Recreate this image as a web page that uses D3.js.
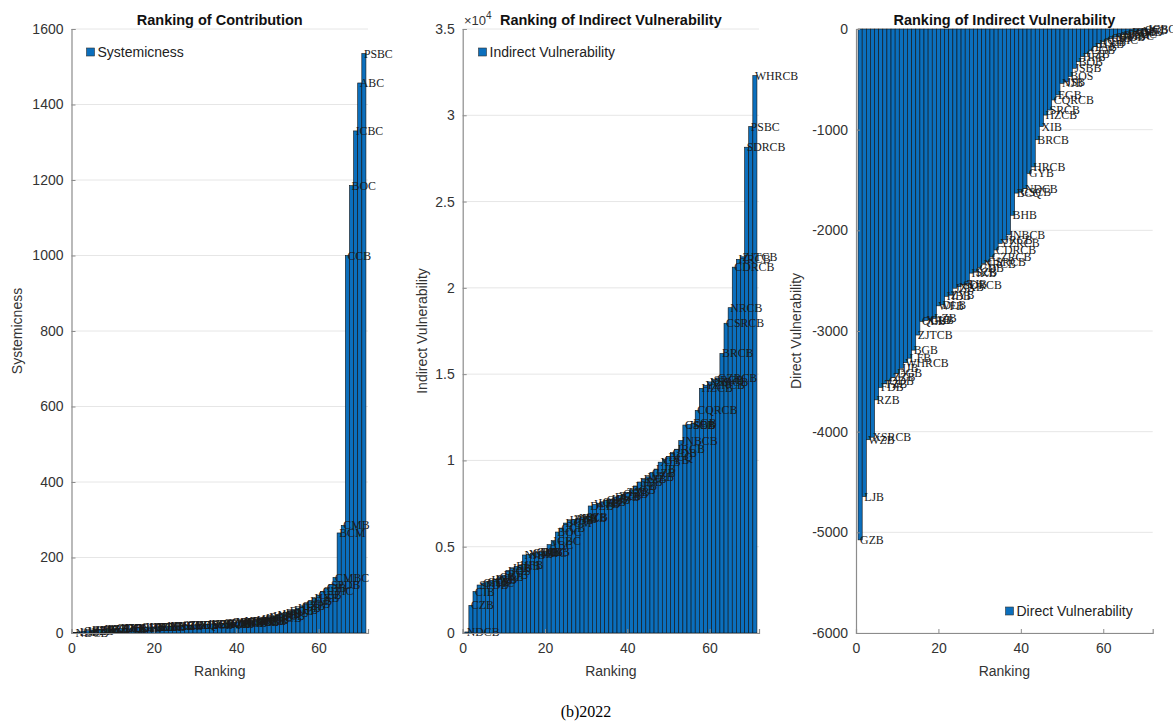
<!DOCTYPE html>
<html>
<head>
<meta charset="utf-8">
<script src="https://cdn.jsdelivr.net/npm/d3@7"></script>
<style>
  body { margin: 0; background: #fff; }
  svg text { font-family: "Liberation Sans", Arial, sans-serif; }
</style>
</head>
<body>
<div id="chart"></div>
<script>
// ranking data, sorted ascending in each panel (rank 1..71)
const systemicBanks = ["NDCB","LJB","GZB","WZB","RZB","FDB","LFB","BGB","TZB","ZJTCB","QDB","ZZB","DGB","JJB","QLB","XAB","GLB","LZB","WFB","DLB","HBB","ZYB","JZB","NXB","TJB","HKB","SZB","GYB","BCQ","CDB","XIB","CSCB","JSBB","YZRCB","XSRCB","SRCB","CQRCB","GZRCB","CDRCB","WHRCB","SDRCB","NRCB","CSRCB","BRCB","HRCB","JRCB","JNBCB","EGB","HZCB","NJB","JSB","BOS","BOB","BHB","HFB","CZB","CGB","PAB","HXB","CEB","CITIC","CIB","SPDB","CMBC","BCM","CMB","CCB","BOC","ICBC","ABC","PSBC"];
const systemicness = [1,3,5,6,8,9,9,10,11,11,12,12,13,13,14,14,15,15,16,16,17,17,18,18,19,19,20,20,21,21,22,22,23,24,24,25,26,27,28,29,30,31,32,33,35,37,39,42,45,48,51,54,58,62,66,72,78,85,92,100,110,118,128,147,265,285,1000,1185,1330,1457,1535];

const indirectBanks = ["NDCB","CZB","CIB","SPDB","CITIC","CEB","HXB","PAB","CGB","BOB","BOS","JSB","BHB","HFB","NJB","XAB","CMBC","CMB","TJB","HKB","ABC","ICBC","BOC","CCB","BCM","HBB","ZYB","JZB","NXB","SZB","DLB","WFB","LZB","GLB","QLB","JJB","DGB","ZZB","QDB","TZB","BGB","LFB","FDB","RZB","WZB","GZB","LJB","XIB","GYB","BCQ","CDB","JRCB","JNBCB","CSCB","JSBB","EGB","CQRCB","HZCB","YZRCB","XSRCB","SRCB","GZRCB","BRCB","CSRCB","NRCB","CDRCB","HRCB","ZJTCB","SDRCB","PSBC","WHRCB"];
const indirectVuln = [60,1600,2400,2780,2900,2970,3050,3120,3250,3350,3620,3750,3860,3920,4520,4560,4620,4680,4700,4720,5120,5350,5850,6080,6370,6520,6580,6640,6690,6740,7360,7450,7520,7600,7700,7760,7880,7960,8050,8150,8300,8520,8750,8920,9050,9300,9500,9900,10050,10220,10450,10650,11150,12050,12080,12150,12900,14180,14350,14550,14680,14780,16200,17950,18850,21200,21650,21800,28150,29350,32300];

const directBanks = ["GZB","LJB","WZB","XSRCB","RZB","FDB","TZB","QDB","ZZB","DGB","JJB","WHRCB","LFB","BGB","ZJTCB","QLB","XAB","GLB","LZB","WFB","DLB","HBB","ZYB","JZB","NXB","SDRCB","TJB","HKB","SZB","CDB","NRCB","CSRCB","GZRCB","CDRCB","YZRCB","JRCB","JNBCB","BHB","BCQ","CSCB","NDCB","GYB","HRCB","BRCB","XIB","HZCB","SRCB","CQRCB","EGB","NJB","JSB","BOS","JSBB","BOB","HFB","CZB","CGB","PAB","HXB","CEB","CITIC","CIB","SPDB","CMBC","BCM","PSBC","BOC","CMB","ABC","CCB","ICBC"];
const directVuln = [-5075,-4645,-4080,-4055,-3684,-3560,-3525,-3495,-3460,-3420,-3370,-3315,-3270,-3190,-3040,-2905,-2895,-2890,-2875,-2750,-2740,-2655,-2640,-2575,-2560,-2540,-2530,-2425,-2410,-2370,-2330,-2310,-2265,-2195,-2130,-2095,-2045,-1850,-1630,-1615,-1585,-1435,-1370,-1100,-970,-855,-805,-705,-655,-540,-525,-470,-390,-325,-275,-245,-210,-175,-145,-125,-105,-93,-80,-70,-55,-45,-33,-25,-18,-10,-4];

const xTicks = [0, 20, 40, 60];
const systemicTicks = [0, 200, 400, 600, 800, 1000, 1200, 1400, 1600];
const indirectTicks = [0, 5000, 10000, 15000, 20000, 25000, 30000, 35000];
const directTicks = [0, -1000, -2000, -3000, -4000, -5000, -6000];

const W = 1173, H = 727;
const plotTop = 29, plotBottom = 633;
const barColor = "#0b6fbd";

const svg = d3.select("#chart").append("svg")
  .attr("width", W)
  .attr("height", H);

function drawPanel(p) {
  const x = d3.scaleLinear().domain([0, 72]).range([p.left, p.right]);
  const y = d3.scaleLinear().domain(p.yDomain).range([plotBottom, plotTop]);
  const g = svg.append("g");

  // gridlines
  g.selectAll("line.grid").data(p.yTicks).enter().append("line")
    .attr("class", "grid")
    .attr("x1", p.left).attr("x2", p.right)
    .attr("y1", d => y(d)).attr("y2", d => y(d))
    .attr("stroke", "#e6e6e6").attr("stroke-width", 1);

  // bars
  const bw = x(1) - x(0);
  g.selectAll("rect.bar").data(p.values).enter().append("rect")
    .attr("class", "bar")
    .attr("x", (d, i) => x(i + 1) - bw / 2)
    .attr("width", bw)
    .attr("y", d => Math.min(y(0), y(d)))
    .attr("height", d => Math.abs(y(d) - y(0)))
    .attr("fill", barColor)
    .attr("stroke", "#111")
    .attr("stroke-width", 0.6);

  // bank labels at each bar end
  g.selectAll("text.bank").data(p.values).enter().append("text")
    .attr("class", "bank")
    .attr("x", (d, i) => x(i + 1))
    .attr("y", d => y(d))
    .attr("dominant-baseline", "central")
    .style("font-family", '"Liberation Serif", "Times New Roman", serif')
    .style("font-size", "11.8px")
    .attr("fill", "#1a1a1a")
    .text((d, i) => p.banks[i]);

  // axes
  const yAxis = d3.axisLeft(y).tickValues(p.yTicks).tickSize(-4).tickPadding(8)
    .tickFormat(p.fmt || (d => d));
  const ya = g.append("g").attr("transform", `translate(${p.left},0)`).call(yAxis);
  const xAxis = d3.axisBottom(x).tickValues(xTicks).tickSize(-4).tickPadding(10);
  const xa = g.append("g").attr("transform", `translate(0,${plotBottom})`).call(xAxis);
  [ya, xa].forEach(a => {
    a.select(".domain").attr("stroke", "#8c8c8c").attr("stroke-width", 1.2);
    a.selectAll(".tick line").attr("stroke", "#8c8c8c");
    a.selectAll(".tick text").attr("fill", "#333")
      .style("font-size", "14px").style("font-family", '"Liberation Sans", Arial, sans-serif');
  });

  // titles and labels
  g.append("text")
    .attr("x", (p.left + p.right) / 2).attr("y", 25)
    .attr("text-anchor", "middle")
    .style("font-size", "14.5px").style("font-weight", "bold")
    .attr("fill", "#111")
    .text(p.title);

  g.append("text")
    .attr("x", (p.left + p.right) / 2).attr("y", 676)
    .attr("text-anchor", "middle")
    .style("font-size", "14px").attr("fill", "#333")
    .text("Ranking");

  g.append("text")
    .attr("transform", `translate(${p.yLabelX},${(plotTop + plotBottom) / 2}) rotate(-90)`)
    .attr("text-anchor", "middle")
    .style("font-size", "14px").attr("fill", "#333")
    .text(p.yLabel);

  // legend
  g.append("rect")
    .attr("x", p.legend[0]).attr("y", p.legend[1] - 4)
    .attr("width", 8).attr("height", 8)
    .attr("fill", barColor).attr("stroke", "#333").attr("stroke-width", 0.6);
  g.append("text")
    .attr("x", p.legend[0] + 11).attr("y", p.legend[1])
    .attr("dominant-baseline", "central")
    .style("font-size", "14px").attr("fill", "#222")
    .text(p.yLabel);

  return g;
}

drawPanel({
  left: 71.5, right: 368, yDomain: [0, 1600], yTicks: systemicTicks,
  values: systemicness, banks: systemicBanks,
  title: "Ranking of Contribution", yLabel: "Systemicness", yLabelX: 22,
  legend: [86.5, 52]
});

const p2 = drawPanel({
  left: 462.7, right: 759, yDomain: [0, 35000], yTicks: indirectTicks,
  values: indirectVuln, banks: indirectBanks, fmt: d => d / 1e4,
  title: "Ranking of Indirect Vulnerability", yLabel: "Indirect Vulnerability", yLabelX: 427,
  legend: [478.5, 52]
});
// exponent label of the y axis
const ex = p2.append("text").attr("x", 464).attr("y", 25)
  .style("font-size", "13px").attr("fill", "#333");
ex.append("tspan").text("\u00d710");
ex.append("tspan").attr("dy", -6).style("font-size", "10px").text("4");

drawPanel({
  left: 856, right: 1152.7, yDomain: [-6000, 0], yTicks: directTicks,
  values: directVuln, banks: directBanks,
  title: "Ranking of Indirect Vulnerability", yLabel: "Direct Vulnerability", yLabelX: 801,
  legend: [1005.5, 611]
});

svg.append("text")
  .attr("x", 586).attr("y", 717)
  .attr("text-anchor", "middle")
  .style("font-family", '"Liberation Serif", "Times New Roman", serif')
  .style("font-size", "16px").attr("fill", "#000")
  .text("(b)2022");
</script>
</body>
</html>
